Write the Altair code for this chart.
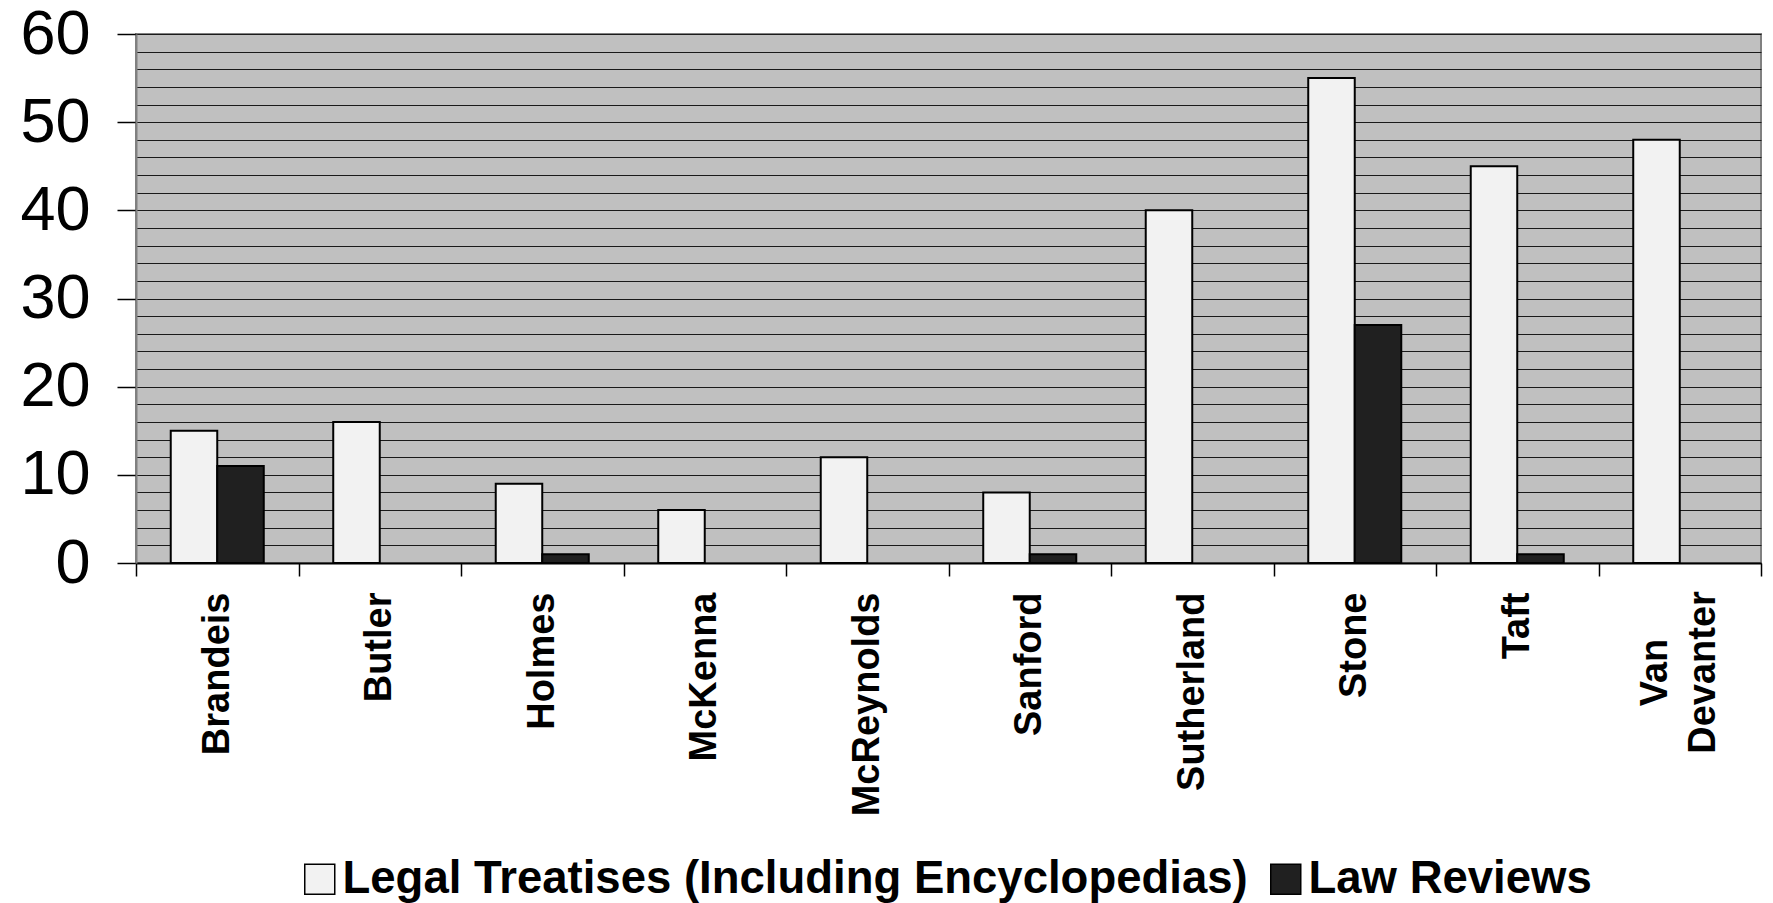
import altair as alt
import pandas as pd

judges = ["Brandeis", "Butler", "Holmes", "McKenna", "McReynolds",
          "Sanford", "Sutherland", "Stone", "Taft", "Van Devanter"]
treatises = [15, 16, 9, 6, 12, 8, 40, 55, 45, 48]
reviews = [11, 0, 1, 0, 0, 1, 0, 27, 1, 0]
series_names = ["Legal Treatises (Including Encyclopedias)", "Law Reviews"]
series_colors = ["#F2F2F2", "#202020"]

rows = []
for j, t, r in zip(judges, treatises, reviews):
    rows.append({"judge": j, "series": series_names[0], "value": t})
    rows.append({"judge": j, "series": series_names[1], "value": r})
df = pd.DataFrame(rows)
df = df[df["value"] > 0]

FONT = "Liberation Sans"
VD = "datum.value == 'Van Devanter'"
label_expr = "split(datum.label, ' ')"

chart = alt.Chart(df).mark_bar(stroke="black", strokeWidth=2).encode(
    x=alt.X("judge:N", sort=judges,
            scale=alt.Scale(paddingInner=0, paddingOuter=0),
            axis=alt.Axis(title=None, labelAngle=-90, tickBand="extent",
                          tickSize=13, tickColor="black", tickWidth=1.5,
                          labelFont=FONT, labelFontSize=38, labelFontWeight="bold",
                          labelColor="black", labelExpr=label_expr,
                          labelAlign={"condition": {"test": VD, "value": "center"}, "value": "right"},
                          labelPadding={"condition": {"test": VD, "value": 96}, "value": 16},
                          labelOffset={"condition": {"test": VD, "value": -24}, "value": 0},
                          labelLineHeight=48, labelLimit=400, labelOverlap=False,
                          domainColor="black", domainWidth=2)),
    xOffset=alt.XOffset("series:N", sort=series_names,
                        scale=alt.Scale(domain=series_names, paddingInner=0, paddingOuter=0.747)),
    y=alt.Y("value:Q", scale=alt.Scale(domain=[0, 60], nice=False),
            axis=alt.Axis(title=None, values=list(range(0, 61, 2)), grid=True,
                          gridColor="#1a1a1a", gridWidth=1,
                          tickSize=19, tickColor="black", tickWidth=1.5,
                          tickOpacity={"condition": {"test": "datum.value % 10 === 0", "value": 1}, "value": 0},
                          labelExpr="datum.value % 10 === 0 ? datum.label : ''",
                          labelFont=FONT, labelFontSize=63, labelColor="black",
                          labelPadding=27, labelFlush=False, labelOverlap=False,
                          domainColor="#808080", domainWidth=2)),
    fill=alt.Fill("series:N",
                  scale=alt.Scale(domain=series_names, range=series_colors),
                  legend=alt.Legend(title=None, orient="none", legendX=161, legendY=822,
                                    direction="horizontal", symbolType="square",
                                    symbolSize=900, symbolStrokeColor="black",
                                    symbolStrokeWidth=1.5, labelFont=FONT,
                                    labelFontSize=45.5, labelFontWeight="bold",
                                    labelColor="black", labelOffset=0,
                                    columnPadding=15, padding=0, labelLimit=1200)),
).properties(
    width=1625, height=529,
    autosize=alt.AutoSizeParams(type="none"),
    padding={"left": 128, "top": 26, "right": 2, "bottom": 345},
).configure_view(fill="#C0C0C0", stroke="#808080", strokeWidth=2)

chart.save("out.html", embed_options={"renderer": "svg", "actions": False})
